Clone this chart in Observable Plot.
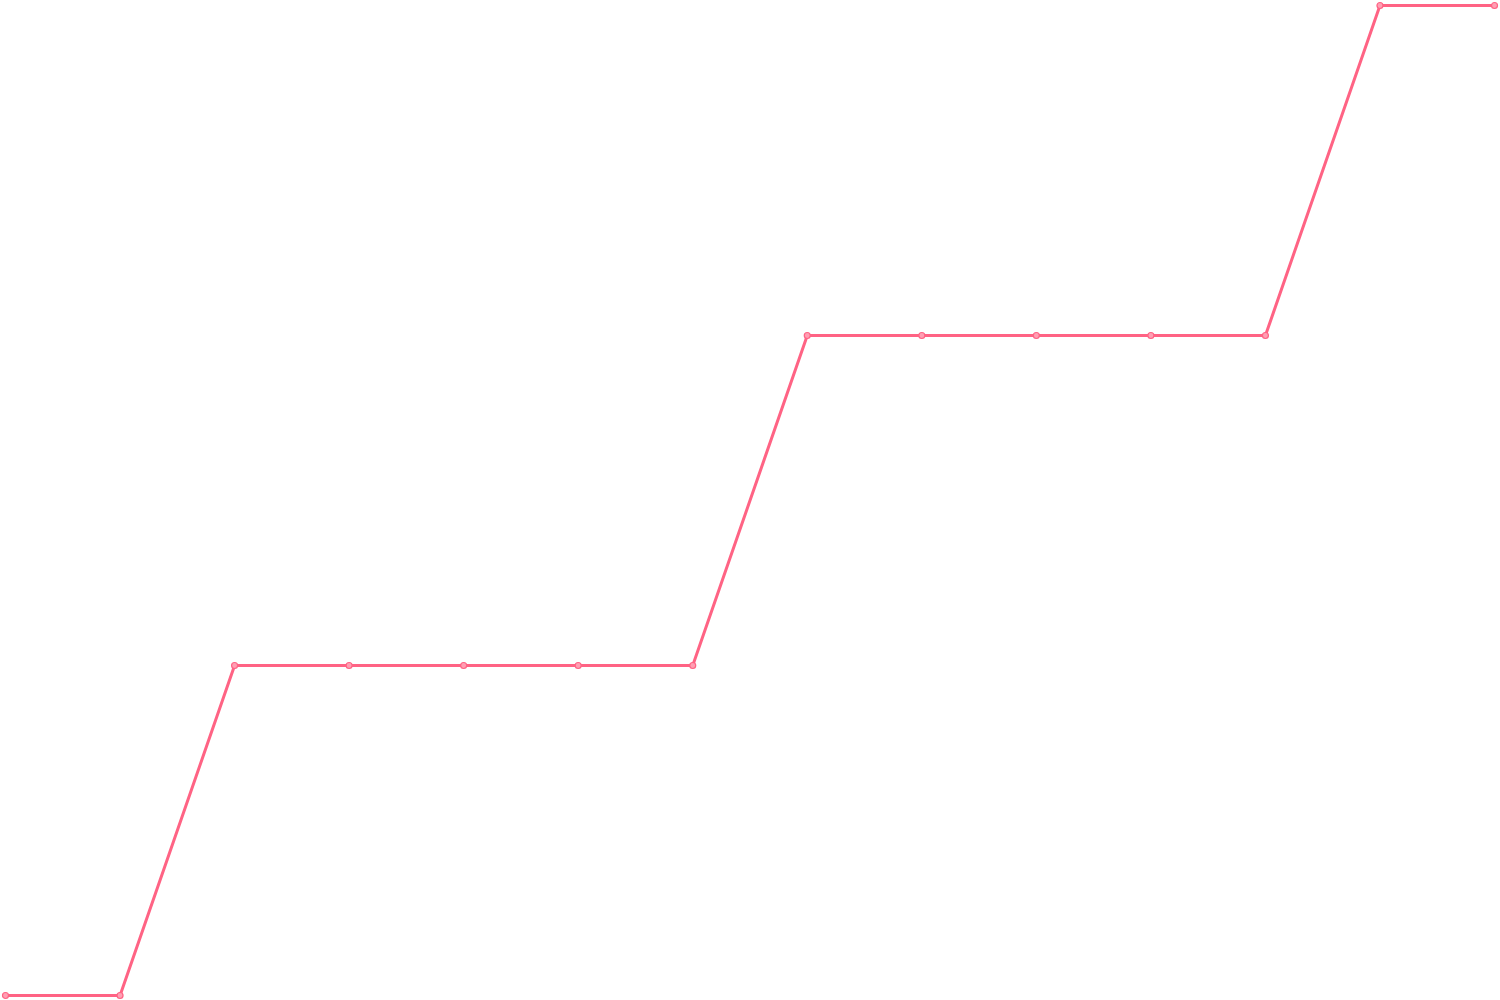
<!DOCTYPE html>
<html><head><meta charset="utf-8">
<script src="https://cdn.jsdelivr.net/npm/d3@7"></script>
<script src="https://cdn.jsdelivr.net/npm/@observablehq/plot@0.6"></script>
<style>body{margin:0;background:#fff}</style>
</head><body><div id="chart"></div>
<script>
const xs = [0,1,2,3,4,5,6,7,8,9,10,11,12,13];
const ys = [0,0,1,1,1,1,1,2,2,2,2,2,3,3];
const data = xs.map((x,i)=>({x, y: ys[i]}));
const chart = Plot.plot({
  width: 1500, height: 1000,
  marginTop: 5, marginBottom: 5, marginLeft: 5, marginRight: 6,
  x: {domain: [0,13], axis: null},
  y: {domain: [0,3], axis: null},
  marks: [
    Plot.line(data, {x:"x", y:"y", stroke:"#ff6384", strokeWidth:3}),
    Plot.dot(data, {x:"x", y:"y", r:3, fill:"#ff9fb3", stroke:"#ff6384", strokeWidth:1.2})
  ]
});
document.getElementById("chart").appendChild(chart);
</script></body></html>
